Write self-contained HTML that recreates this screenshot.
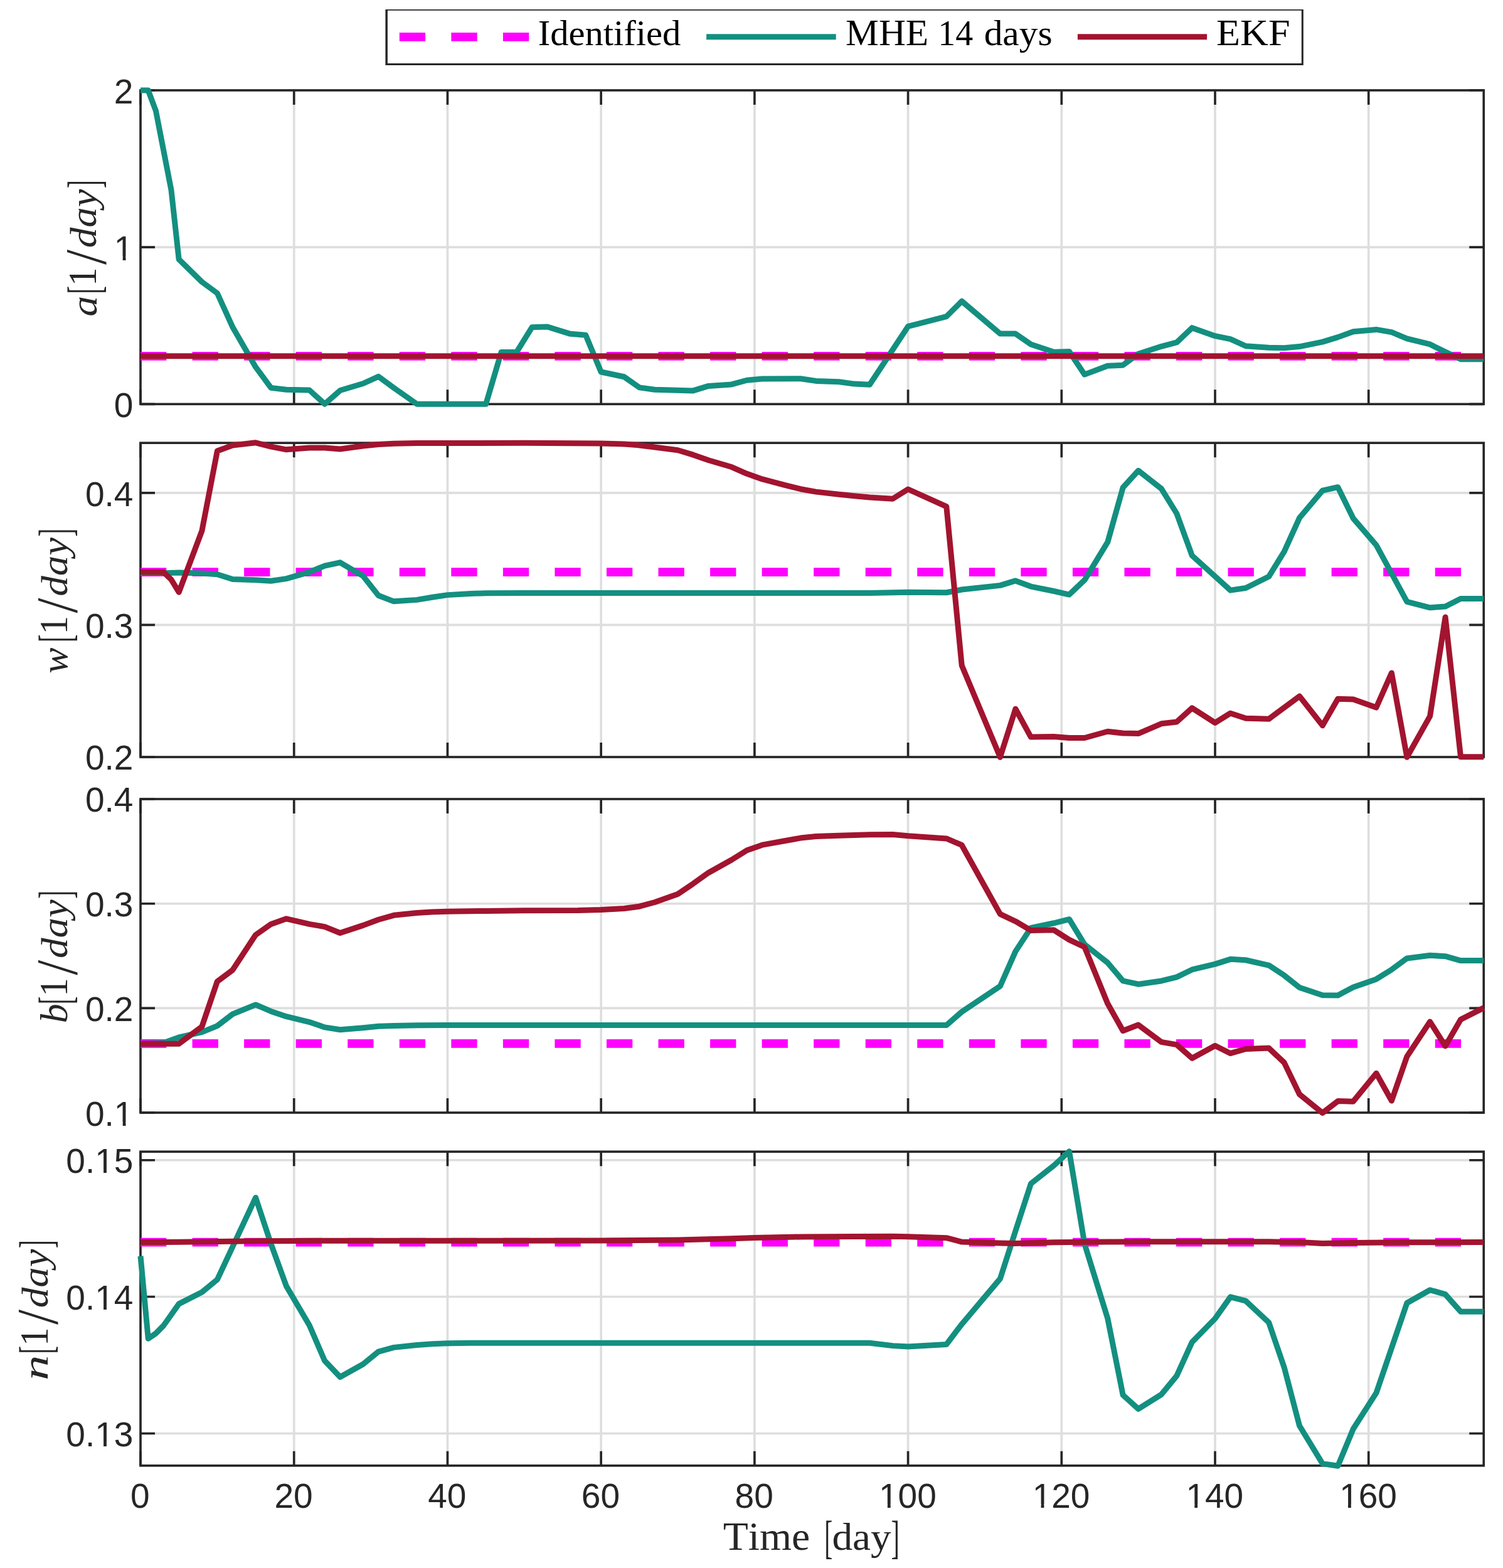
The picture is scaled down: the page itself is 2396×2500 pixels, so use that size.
<!DOCTYPE html>
<html lang="en">
<head>
<meta charset="utf-8">
<title>Parameter estimation: Identified vs MHE 14 days vs EKF</title>
<style>
html,body{margin:0;padding:0;background:#fff;}
body{width:2396px;height:2500px;overflow:hidden;}
svg{display:block;}
.tk{font-family:"Liberation Sans", sans-serif;font-size:56.3px;fill:#262626;}
.lab{font-family:"Liberation Serif", serif;font-size:62px;fill:#262626;}
.leg{font-family:"Liberation Serif", serif;font-size:59.5px;fill:#000;}
text{font-kerning:none;font-variant-ligatures:none;white-space:pre;}
.it{font-style:italic;}
.ax{stroke:#262626;stroke-width:3.65;fill:none;}
.gr{stroke:#dedede;stroke-width:3.65;fill:none;}
.teal{stroke:#138f80;stroke-width:9;fill:none;stroke-linejoin:round;stroke-linecap:butt;}
.red{stroke:#a2142f;stroke-width:9;fill:none;stroke-linejoin:round;stroke-linecap:butt;}
.mag{stroke:#ff00ff;stroke-width:13.8;fill:none;stroke-dasharray:41.3 41.25;}
</style>
</head>
<body>
<svg width="2396" height="2500" viewBox="0 0 2396 2500">
<rect x="0" y="0" width="2396" height="2500" fill="#ffffff"/>
<g id="legend">
<path fill="#262626" fill-rule="evenodd" d="M614.4 15H2077.8V103.9H614.4ZM617.9 16.8V101H2074.8V16.8Z"/>
<line class="mag" x1="636.8" y1="58.8" x2="843.2" y2="58.8"/>
<line class="teal" x1="1126.1" y1="58.8" x2="1332.7" y2="58.8"/>
<line class="red" x1="1717.9" y1="58.8" x2="1924.1" y2="58.8"/>
<text class="leg" transform="translate(0 72.08)" aria-label="Identified"><tspan x="857.68" y="0" font-size="58" textLength="227.63" lengthAdjust="spacingAndGlyphs">Identified</tspan></text>
<text class="leg" transform="translate(0 72.08)" aria-label="MHE 14 days"><tspan x="1348.09" y="0" font-size="59.5" textLength="132.07" lengthAdjust="spacingAndGlyphs">MHE</tspan><tspan x="1480" y="0" font-size="58"> </tspan><tspan x="1495.29" y="0" font-size="57.9" textLength="55.88" lengthAdjust="spacingAndGlyphs">14</tspan><tspan x="1553" y="0" font-size="58"> </tspan><tspan x="1568.65" y="0" font-size="57" textLength="108.89" lengthAdjust="spacingAndGlyphs">days</tspan></text>
<text class="leg" transform="translate(0 72.08)" aria-label="EKF"><tspan x="1939.11" y="0" font-size="59.5" textLength="117.54" lengthAdjust="spacingAndGlyphs">EKF</tspan></text>
</g>
<g id="panel1">
<path class="gr" d="M468.71 144V644.3M713.43 144V644.3M958.14 144V644.3M1202.86 144V644.3M1447.57 144V644.3M1692.29 144V644.3M1937 144V644.3M2181.71 144V644.3M224 394.15H2365.25"/>
<path class="ax" d="M224 644.3V621.3M224 144V167M468.71 644.3V621.3M468.71 144V167M713.43 644.3V621.3M713.43 144V167M958.14 644.3V621.3M958.14 144V167M1202.86 644.3V621.3M1202.86 144V167M1447.57 644.3V621.3M1447.57 144V167M1692.29 644.3V621.3M1692.29 144V167M1937 644.3V621.3M1937 144V167M2181.71 644.3V621.3M2181.71 144V167M224 644.3H247M2365.25 644.3H2342.25M224 394.15H247M2365.25 394.15H2342.25M224 144H247M2365.25 144H2342.25"/>
<rect class="ax" x="224" y="144" width="2141.25" height="500.3"/>
<line class="mag" x1="224" y1="567.8" x2="2365.25" y2="567.8"/>
<polyline class="teal" points="224,144.09 236.24,144.09 248.47,176.76 272.94,302.75 285.18,413.5 321.89,449.5 346.36,467.5 370.83,521.49 407.54,585.18 432.01,618.4 456.48,621.17 493.19,622 517.66,644.15 542.13,622.56 578.84,611.48 603.31,600.4 627.78,618.4 664.49,644.15 774.61,644.22 799.08,561.43 823.55,561.43 848.02,521.83 872.49,521 909.2,532.35 933.67,534.29 958.14,592.99 994.85,600.75 1019.32,617.91 1043.79,621.24 1104.97,622.9 1129.44,615.42 1166.15,612.93 1190.62,606.28 1215.09,604.07 1276.27,603.79 1300.74,607.39 1337.45,608.78 1361.92,612.1 1386.39,613.21 1447.57,520.45 1508.75,504.66 1533.22,480.3 1594.4,532.08 1618.87,532.08 1643.34,548.97 1680.05,561.15 1704.52,560.6 1728.99,597.15 1765.7,583.3 1790.17,582.19 1814.64,564.2 1851.35,552.29 1875.82,545.92 1900.29,522.66 1937,535.68 1961.47,540.66 1985.94,551.74 2022.65,554.23 2047.12,554.78 2071.59,552.57 2108.3,545.09 2132.77,537.61 2157.24,528.75 2193.95,525.43 2218.42,529.58 2242.89,539.83 2279.6,548.97 2304.07,561.15 2328.54,572.78 2365.25,572.78"/>
<polyline class="red" points="224,567.8 2365.25,567.8"/>
<text class="tk" text-anchor="end" x="212.4" y="665.3" textLength="30.58" lengthAdjust="spacingAndGlyphs">0</text>
<text class="tk" text-anchor="end" x="212.4" y="414.9" textLength="30.58" lengthAdjust="spacingAndGlyphs">1</text>
<rect x="184.21" y="408.89" width="11.44" height="7.81" fill="#fff"/><rect x="200.51" y="408.89" width="11.01" height="7.81" fill="#fff"/>
<text class="tk" text-anchor="end" x="212.4" y="165" textLength="30.58" lengthAdjust="spacingAndGlyphs">2</text>
<text class="lab" transform="translate(153.4 465.9) rotate(-90)" aria-label="a[1/day]"><tspan class="it" x="-38.76" y="0.3" font-size="58.63" textLength="32.94" lengthAdjust="spacingAndGlyphs">a</tspan><tspan x="-2.9" y="5.58" font-size="74.91" textLength="13.01" lengthAdjust="spacingAndGlyphs">[</tspan><tspan x="9.81" y="0" font-size="62.56" textLength="29.54" lengthAdjust="spacingAndGlyphs">1</tspan><tspan x="43.8" y="14.69" font-size="92.68" textLength="24.1" lengthAdjust="spacingAndGlyphs">/</tspan><tspan class="it" x="70.63" y="0" font-size="60" textLength="93.84" lengthAdjust="spacingAndGlyphs">day</tspan><tspan x="165.67" y="5.58" font-size="74.91" textLength="13.16" lengthAdjust="spacingAndGlyphs">]</tspan></text>
</g>
<g id="panel2">
<path class="gr" d="M468.71 706.2V1207M713.43 706.2V1207M958.14 706.2V1207M1202.86 706.2V1207M1447.57 706.2V1207M1692.29 706.2V1207M1937 706.2V1207M2181.71 706.2V1207M224 996.4H2365.25M224 785.8H2365.25"/>
<path class="ax" d="M224 1207V1184M224 706.2V729.2M468.71 1207V1184M468.71 706.2V729.2M713.43 1207V1184M713.43 706.2V729.2M958.14 1207V1184M958.14 706.2V729.2M1202.86 1207V1184M1202.86 706.2V729.2M1447.57 1207V1184M1447.57 706.2V729.2M1692.29 1207V1184M1692.29 706.2V729.2M1937 1207V1184M1937 706.2V729.2M2181.71 1207V1184M2181.71 706.2V729.2M224 1207H247M2365.25 1207H2342.25M224 996.4H247M2365.25 996.4H2342.25M224 785.8H247M2365.25 785.8H2342.25"/>
<rect class="ax" x="224" y="706.2" width="2141.25" height="500.8"/>
<line class="mag" x1="224" y1="912.07" x2="2365.25" y2="912.07"/>
<polyline class="teal" points="224,912.9 260.71,913.73 285.18,912.9 321.89,914 346.36,915.67 370.83,923.42 407.54,924.8 432.01,926.19 456.48,922.59 493.19,912.07 517.66,902.1 542.13,896.84 578.84,918.43 603.31,949.45 627.78,958.86 664.49,956.37 688.96,952.22 713.43,948.62 750.14,946.4 774.61,945.85 835.79,945.57 1386.39,945.57 1423.1,944.74 1447.57,944.19 1508.75,944.74 1533.22,940.03 1594.4,933.39 1618.87,925.91 1643.34,935.05 1680.05,942.52 1704.52,948.06 1728.99,924.8 1765.7,864.44 1790.17,777.22 1814.64,750.36 1851.35,779.16 1875.82,818.75 1900.29,885.76 1961.47,941.14 1985.94,937.54 2022.65,919.27 2047.12,879.67 2071.59,825.68 2108.3,782.2 2132.77,776.67 2157.24,826.51 2193.95,869.15 2242.89,959.41 2279.6,968.83 2304.07,966.89 2328.54,954.43 2365.25,954.43"/>
<polyline class="red" points="224,912.07 260.71,912.34 272.94,923.97 285.18,944.19 321.89,846.44 346.36,719.07 370.83,709.94 407.54,705.78 432.01,712.15 456.48,716.86 493.19,714.09 517.66,714.09 542.13,716.03 578.84,711.04 603.31,708.55 627.78,707.17 664.49,706.61 713.43,706.61 835.79,706.34 958.14,706.89 994.85,708 1019.32,709.94 1043.79,712.98 1080.5,717.69 1104.97,725.17 1129.44,733.75 1166.15,744.55 1190.62,755.35 1215.09,763.93 1251.8,773.62 1276.27,779.71 1300.74,784.14 1337.45,788.3 1361.92,790.79 1386.39,793 1423.1,795.22 1447.57,779.99 1508.75,807.68 1533.22,1061.03 1594.4,1207.23 1618.87,1130.26 1643.34,1175.11 1680.05,1174.56 1704.52,1176.5 1728.99,1176.5 1765.7,1166.25 1790.17,1169.02 1814.64,1169.57 1851.35,1153.79 1875.82,1151.02 1900.29,1128.87 1937,1152.41 1961.47,1137.18 1985.94,1145.21 2022.65,1146.32 2071.59,1110.04 2108.3,1156.84 2132.77,1114.2 2157.24,1115.03 2193.95,1128.04 2218.42,1072.94 2242.89,1207.23 2279.6,1141.88 2304.07,984.06 2328.54,1206.68 2365.25,1206.68"/>
<text class="tk" text-anchor="end" x="212.4" y="1226.7" textLength="76.46" lengthAdjust="spacingAndGlyphs">0.2</text>
<text class="tk" text-anchor="end" x="212.4" y="1016.7" textLength="76.46" lengthAdjust="spacingAndGlyphs">0.3</text>
<text class="tk" text-anchor="end" x="212.4" y="806.7" textLength="76.46" lengthAdjust="spacingAndGlyphs">0.4</text>
<text class="lab" transform="translate(107.1 1021.4) rotate(-90)" aria-label="w[1/day]"><tspan class="it" x="-52.38" y="0.31" font-size="60.16" textLength="41.23" lengthAdjust="spacingAndGlyphs">w</tspan><tspan x="-2.9" y="5.58" font-size="74.91" textLength="13.01" lengthAdjust="spacingAndGlyphs">[</tspan><tspan x="9.81" y="0" font-size="62.56" textLength="29.54" lengthAdjust="spacingAndGlyphs">1</tspan><tspan x="43.8" y="14.69" font-size="92.68" textLength="24.1" lengthAdjust="spacingAndGlyphs">/</tspan><tspan class="it" x="70.63" y="0" font-size="60" textLength="93.84" lengthAdjust="spacingAndGlyphs">day</tspan><tspan x="165.67" y="5.58" font-size="74.91" textLength="13.16" lengthAdjust="spacingAndGlyphs">]</tspan></text>
</g>
<g id="panel3">
<path class="gr" d="M468.71 1274V1774M713.43 1274V1774M958.14 1274V1774M1202.86 1274V1774M1447.57 1274V1774M1692.29 1274V1774M1937 1274V1774M2181.71 1274V1774M224 1607.4H2365.25M224 1440.7H2365.25"/>
<path class="ax" d="M224 1774V1751M224 1274V1297M468.71 1774V1751M468.71 1274V1297M713.43 1774V1751M713.43 1274V1297M958.14 1774V1751M958.14 1274V1297M1202.86 1774V1751M1202.86 1274V1297M1447.57 1774V1751M1447.57 1274V1297M1692.29 1774V1751M1692.29 1274V1297M1937 1774V1751M1937 1274V1297M2181.71 1774V1751M2181.71 1274V1297M224 1774H247M2365.25 1774H2342.25M224 1607.4H247M2365.25 1607.4H2342.25M224 1440.7H247M2365.25 1440.7H2342.25M224 1274H247M2365.25 1274H2342.25"/>
<rect class="ax" x="224" y="1274" width="2141.25" height="500"/>
<line class="mag" x1="224" y1="1663.92" x2="2365.25" y2="1663.92"/>
<polyline class="teal" points="224,1664.2 260.71,1662.81 285.18,1653.95 321.89,1645.65 346.36,1635.68 370.83,1616.85 407.54,1601.9 432.01,1612.42 456.48,1620.73 493.19,1629.59 517.66,1637.89 542.13,1641.77 578.84,1638.72 603.31,1636.23 627.78,1635.4 664.49,1634.85 713.43,1634.57 1508.75,1634.57 1533.22,1613.25 1594.4,1572.27 1618.87,1516.89 1643.34,1479.51 1680.05,1471.76 1704.52,1465.67 1728.99,1505.82 1765.7,1534.89 1790.17,1563.96 1814.64,1569.22 1851.35,1563.96 1875.82,1557.87 1900.29,1545.97 1937,1537.11 1961.47,1529.35 1985.94,1530.74 2022.65,1539.04 2047.12,1555.1 2071.59,1574.49 2108.3,1586.67 2132.77,1586.95 2157.24,1573.93 2193.95,1561.19 2218.42,1545.97 2242.89,1527.97 2279.6,1523.26 2304.07,1524.65 2328.54,1531.57 2365.25,1531.57"/>
<polyline class="red" points="224,1664.2 285.18,1664.2 321.89,1636.79 346.36,1564.79 370.83,1546.52 407.54,1490.59 432.01,1473.42 456.48,1464.84 493.19,1473.42 517.66,1477.57 542.13,1487.54 578.84,1475.36 603.31,1466.22 627.78,1459.3 664.49,1455.42 688.96,1454.04 713.43,1453.21 774.61,1452.38 835.79,1451.82 921.44,1451.55 958.14,1450.44 994.85,1448.5 1019.32,1445.18 1043.79,1438.53 1080.5,1425.52 1104.97,1408.91 1129.44,1391.46 1166.15,1370.97 1190.62,1355.74 1215.09,1347.16 1251.8,1340.51 1276.27,1336.08 1300.74,1333.59 1337.45,1332.21 1361.92,1331.38 1386.39,1330.82 1423.1,1330.55 1447.57,1332.76 1508.75,1336.91 1533.22,1347.44 1594.4,1457.36 1618.87,1468.99 1643.34,1483.39 1680.05,1482.83 1704.52,1498.34 1728.99,1509.97 1765.7,1599.96 1790.17,1643.43 1814.64,1634.02 1851.35,1661.43 1875.82,1665.58 1900.29,1687.18 1937,1667.24 1961.47,1679.43 1985.94,1672.5 2022.65,1671.12 2047.12,1694.1 2071.59,1744.77 2108.3,1774.4 2132.77,1755.57 2157.24,1756.13 2193.95,1711.27 2218.42,1755.02 2242.89,1684.41 2279.6,1629.03 2304.07,1667.8 2328.54,1625.43 2365.25,1606.88"/>
<text class="tk" text-anchor="end" x="212.4" y="1794.9" textLength="76.46" lengthAdjust="spacingAndGlyphs">0.1</text>
<rect x="184.21" y="1788.89" width="11.44" height="7.81" fill="#fff"/><rect x="200.51" y="1788.89" width="11.01" height="7.81" fill="#fff"/>
<text class="tk" text-anchor="end" x="212.4" y="1627.75" textLength="76.46" lengthAdjust="spacingAndGlyphs">0.2</text>
<text class="tk" text-anchor="end" x="212.4" y="1460.75" textLength="76.46" lengthAdjust="spacingAndGlyphs">0.3</text>
<text class="tk" text-anchor="end" x="212.4" y="1293.7" textLength="76.46" lengthAdjust="spacingAndGlyphs">0.4</text>
<text class="lab" transform="translate(107.1 1598.6) rotate(-90)" aria-label="b[1/day]"><tspan class="it" x="-32.6" y="0.29" font-size="62.25" textLength="30.97" lengthAdjust="spacingAndGlyphs">b</tspan><tspan x="-2.9" y="5.58" font-size="74.91" textLength="13.01" lengthAdjust="spacingAndGlyphs">[</tspan><tspan x="9.81" y="0" font-size="62.56" textLength="29.54" lengthAdjust="spacingAndGlyphs">1</tspan><tspan x="43.8" y="14.69" font-size="92.68" textLength="24.1" lengthAdjust="spacingAndGlyphs">/</tspan><tspan class="it" x="70.63" y="0" font-size="60" textLength="93.84" lengthAdjust="spacingAndGlyphs">day</tspan><tspan x="165.67" y="5.58" font-size="74.91" textLength="13.16" lengthAdjust="spacingAndGlyphs">]</tspan></text>
</g>
<g id="panel4">
<path class="gr" d="M468.71 1836.2V2336.8M713.43 1836.2V2336.8M958.14 1836.2V2336.8M1202.86 1836.2V2336.8M1447.57 1836.2V2336.8M1692.29 1836.2V2336.8M1937 1836.2V2336.8M2181.71 1836.2V2336.8M224 2285.5H2365.25M224 2067.5H2365.25M224 1849.7H2365.25"/>
<path class="ax" d="M224 2336.8V2313.8M224 1836.2V1859.2M468.71 2336.8V2313.8M468.71 1836.2V1859.2M713.43 2336.8V2313.8M713.43 1836.2V1859.2M958.14 2336.8V2313.8M958.14 1836.2V1859.2M1202.86 2336.8V2313.8M1202.86 1836.2V1859.2M1447.57 2336.8V2313.8M1447.57 1836.2V1859.2M1692.29 2336.8V2313.8M1692.29 1836.2V1859.2M1937 2336.8V2313.8M1937 1836.2V1859.2M2181.71 2336.8V2313.8M2181.71 1836.2V1859.2M224 2285.5H247M2365.25 2285.5H2342.25M224 2067.5H247M2365.25 2067.5H2342.25M224 1849.7H247M2365.25 1849.7H2342.25"/>
<rect class="ax" x="224" y="1836.2" width="2141.25" height="500.6"/>
<line class="mag" x1="224" y1="1980.6" x2="2365.25" y2="1980.6"/>
<polyline class="teal" points="224,2002.75 236.24,2134.27 248.47,2125.96 260.71,2113.5 285.18,2078.89 321.89,2060.34 346.36,2040.13 407.54,1909.44 432.01,1983.37 456.48,2050.65 493.19,2112.95 517.66,2169.71 542.13,2195.46 578.84,2174.97 603.31,2155.04 627.78,2148.39 664.49,2144.52 688.96,2142.85 713.43,2141.75 750.14,2141.19 1386.39,2141.19 1423.1,2145.62 1447.57,2147.01 1508.75,2143.41 1533.22,2111.29 1594.4,2038.74 1618.87,1962.6 1643.34,1887.28 1680.05,1858.21 1704.52,1835.78 1728.99,1983.37 1765.7,2101.87 1790.17,2224.26 1814.64,2246.41 1851.35,2223.43 1875.82,2193.53 1900.29,2139.81 1937,2102.43 1961.47,2067.82 1985.94,2074.19 2022.65,2108.52 2047.12,2179.96 2071.59,2273.27 2108.3,2333.63 2132.77,2337.23 2157.24,2278.25 2193.95,2220.94 2242.89,2077.51 2279.6,2056.74 2304.07,2063.66 2328.54,2091.35 2365.25,2091.35"/>
<polyline class="red" points="224,1980.6 285.18,1980.32 346.36,1979.49 407.54,1978.66 468.71,1978.38 958.14,1978.1 1080.5,1977 1166.15,1974.78 1202.86,1973.4 1276.27,1972.01 1361.92,1971.46 1423.1,1971.18 1447.57,1971.74 1508.75,1973.67 1533.22,1980.04 1594.4,1981.98 1618.87,1982.53 1643.34,1981.7 1680.05,1980.87 1765.7,1980.04 1814.64,1979.77 2022.65,1979.77 2071.59,1980.6 2108.3,1982.53 2157.24,1981.43 2242.89,1980.87 2365.25,1980.6"/>
<text class="tk" text-anchor="end" x="212.4" y="2305.75" textLength="107.04" lengthAdjust="spacingAndGlyphs">0.13</text>
<rect x="153.62" y="2299.74" width="11.44" height="7.81" fill="#fff"/><rect x="169.93" y="2299.74" width="11.01" height="7.81" fill="#fff"/>
<text class="tk" text-anchor="end" x="212.4" y="2088" textLength="107.04" lengthAdjust="spacingAndGlyphs">0.14</text>
<rect x="153.62" y="2081.99" width="11.44" height="7.81" fill="#fff"/><rect x="169.93" y="2081.99" width="11.01" height="7.81" fill="#fff"/>
<text class="tk" text-anchor="end" x="212.4" y="1869.9" textLength="107.04" lengthAdjust="spacingAndGlyphs">0.15</text>
<rect x="153.62" y="1863.89" width="11.44" height="7.81" fill="#fff"/><rect x="169.93" y="1863.89" width="11.01" height="7.81" fill="#fff"/>
<text class="lab" transform="translate(76.4 2155.9) rotate(-90)" aria-label="n[1/day]"><tspan class="it" x="-44.87" y="0" font-size="57.94" textLength="40.2" lengthAdjust="spacingAndGlyphs">n</tspan><tspan x="-2.9" y="5.58" font-size="74.91" textLength="13.01" lengthAdjust="spacingAndGlyphs">[</tspan><tspan x="9.81" y="0" font-size="62.56" textLength="29.54" lengthAdjust="spacingAndGlyphs">1</tspan><tspan x="43.8" y="14.69" font-size="92.68" textLength="24.1" lengthAdjust="spacingAndGlyphs">/</tspan><tspan class="it" x="70.63" y="0" font-size="60" textLength="93.84" lengthAdjust="spacingAndGlyphs">day</tspan><tspan x="165.67" y="5.58" font-size="74.91" textLength="13.16" lengthAdjust="spacingAndGlyphs">]</tspan></text>
</g>
<g id="xticks">
<text class="tk" text-anchor="middle" x="223.3" y="2404.1" textLength="30.58" lengthAdjust="spacingAndGlyphs">0</text>
<text class="tk" text-anchor="middle" x="468.01" y="2404.1" textLength="61.17" lengthAdjust="spacingAndGlyphs">20</text>
<text class="tk" text-anchor="middle" x="712.73" y="2404.1" textLength="61.17" lengthAdjust="spacingAndGlyphs">40</text>
<text class="tk" text-anchor="middle" x="957.44" y="2404.1" textLength="61.17" lengthAdjust="spacingAndGlyphs">60</text>
<text class="tk" text-anchor="middle" x="1202.16" y="2404.1" textLength="61.17" lengthAdjust="spacingAndGlyphs">80</text>
<text class="tk" text-anchor="middle" x="1446.87" y="2404.1" textLength="91.75" lengthAdjust="spacingAndGlyphs">100</text>
<rect x="1403.39" y="2398.09" width="11.44" height="7.81" fill="#fff"/><rect x="1419.69" y="2398.09" width="11.01" height="7.81" fill="#fff"/>
<text class="tk" text-anchor="middle" x="1691.59" y="2404.1" textLength="91.75" lengthAdjust="spacingAndGlyphs">120</text>
<rect x="1648.1" y="2398.09" width="11.44" height="7.81" fill="#fff"/><rect x="1664.4" y="2398.09" width="11.01" height="7.81" fill="#fff"/>
<text class="tk" text-anchor="middle" x="1936.3" y="2404.1" textLength="91.75" lengthAdjust="spacingAndGlyphs">140</text>
<rect x="1892.82" y="2398.09" width="11.44" height="7.81" fill="#fff"/><rect x="1909.12" y="2398.09" width="11.01" height="7.81" fill="#fff"/>
<text class="tk" text-anchor="middle" x="2181.01" y="2404.1" textLength="91.75" lengthAdjust="spacingAndGlyphs">160</text>
<rect x="2137.53" y="2398.09" width="11.44" height="7.81" fill="#fff"/><rect x="2153.83" y="2398.09" width="11.01" height="7.81" fill="#fff"/>
</g>
<text class="lab" transform="translate(0 2470.9)" aria-label="Time [day]"><tspan x="1152.71" y="0" font-size="63" textLength="138.46" lengthAdjust="spacingAndGlyphs">Time</tspan><tspan x="1292" y="0" font-size="62"> </tspan><tspan x="1314.2" y="5.09" font-size="74.79" textLength="13.01" lengthAdjust="spacingAndGlyphs">[</tspan><tspan x="1326.44" y="0" font-size="61" textLength="94.16" lengthAdjust="spacingAndGlyphs">day</tspan><tspan x="1420.6" y="5.09" font-size="74.79" textLength="13.39" lengthAdjust="spacingAndGlyphs">]</tspan></text>
</svg>
</body>
</html>
